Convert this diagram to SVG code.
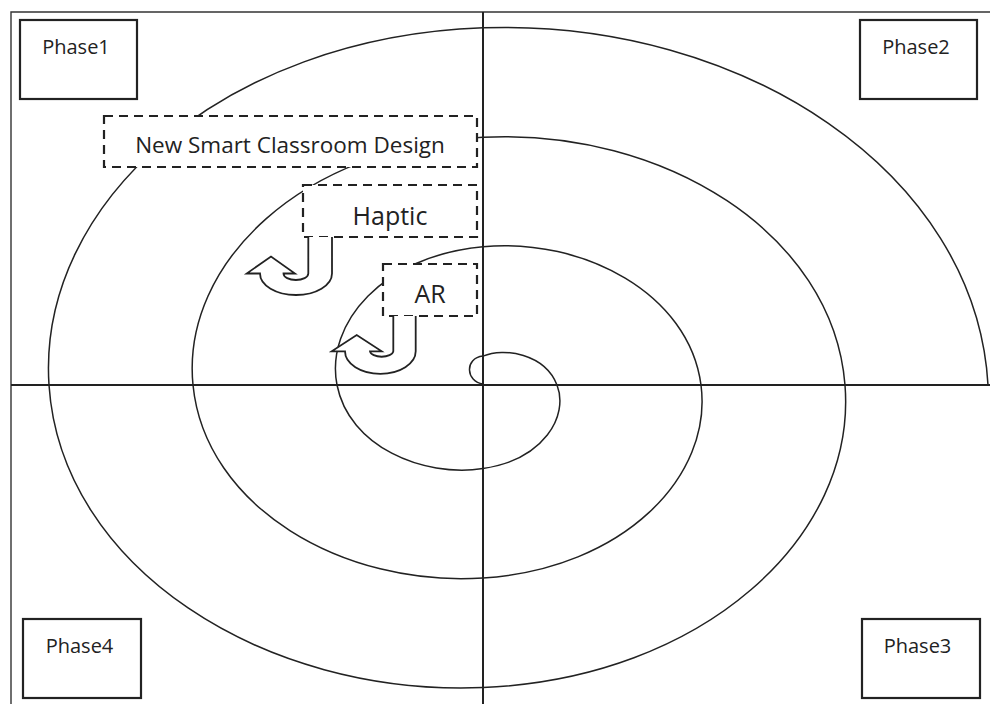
<svg xmlns="http://www.w3.org/2000/svg" width="990" height="704" viewBox="0 0 990 704">
<style>
.bg{fill:#fff}
.frame{fill:none;stroke:#333;stroke-width:1.4}
.axis{fill:none;stroke:#222;stroke-width:2}
.spiral{fill:none;stroke:#222;stroke-width:1.5}
.phase{fill:#fff;stroke:#222;stroke-width:2.2}
.dash{fill:#fff;stroke:#222;stroke-width:2.2;stroke-dasharray:9 6}
.uturn{fill:#fff;stroke:#222;stroke-width:1.8;stroke-linejoin:miter}
text{font-family:"Open Sans","Noto Sans",sans-serif;fill:#222;text-anchor:middle}
.pt{font-size:20px}
</style>
<rect class="bg" x="0" y="0" width="990" height="704"/>
<path class="frame" d="M11 704 V12 H990"/>
<path id="spiral" class="spiral" d="M483 384 C466 382 464 358 483 356.1 C504 347 545 353.9 557 385 C569 416.1 543.8 459.5 483 468.6 C422.3 477.7 349 446.3 337 385 C325 323.7 382.5 255.8 483 246.7 C583.5 237.6 689 293.5 701 385 C713 476.5 623.3 568.9 483 578 C342.7 587.1 205 506.7 193 385 C181 263.3 303 146.3 483 137.2 C663 128.1 833 233.1 845 385 C857 536.9 702.8 678.4 483 687.5 C263.2 696.6 61 567.2 49 385 C37 202.8 223.4 36.9 483 27.8 C742.6 18.7 976 172.6 988 385"/>
<path class="axis" d="M11 385 H990 M483 12 V704"/>
<g id="phase1"><rect class="phase" x="20" y="20" width="117" height="79"/><text class="pt" x="76" y="54">Phase1</text></g>
<g id="phase2"><rect class="phase" x="860" y="20" width="117" height="79"/><text class="pt" x="916" y="54">Phase2</text></g>
<g id="phase4"><rect class="phase" x="23" y="619" width="118" height="79"/><text class="pt" x="79.5" y="653">Phase4</text></g>
<g id="phase3"><rect class="phase" x="862" y="619" width="118" height="79"/><text class="pt" x="917.5" y="653">Phase3</text></g>
<g id="nscd"><rect class="dash" x="104" y="116" width="373" height="51"/><text x="290" y="153" font-size="22.5">New Smart Classroom Design</text></g>
<g id="haptic"><rect class="dash" x="303" y="185" width="174" height="52"/><text x="390" y="225" font-size="25">Haptic</text></g>
<g id="ar"><rect class="dash" x="383" y="264" width="94" height="52"/><text x="430" y="303" font-size="25">AR</text></g>
<g id="connectors">
<path class="uturn" d="M308.3 237 L308.3 273.5 A12.4 6.5 0 0 1 283.5 273.5 L295 273.5 L271 256.5 L246.7 273.5 L260 273.5 A36 21.5 0 0 0 332 273.5 L332 237"/>
<path class="uturn" d="M393.3 316 L393.3 351.3 A11.7 6 0 0 1 370 351.3 L381.7 351.3 L356.7 335 L331.7 351.3 L345 351.3 A35.35 22.5 0 0 0 415.7 351.3 L415.7 316"/>
</g>
</svg>
